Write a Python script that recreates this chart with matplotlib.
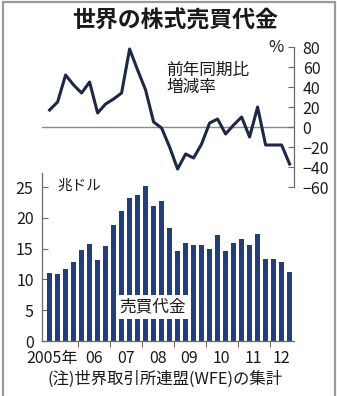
import numpy as np
import matplotlib
matplotlib.use("Agg")
import matplotlib.pyplot as plt
from matplotlib.patches import Rectangle

plt.rcParams['font.family'] = ['Noto Sans CJK JP', 'DejaVu Sans']

# quarterly, 2005 Q1 .. 2012 Q3
turnover = [11.0, 10.9, 11.7, 12.8, 14.8, 15.8, 13.2, 15.4,
            18.8, 21.1, 23.3, 23.7, 25.2, 22.0, 22.7, 18.3,
            14.6, 16.0, 15.6, 15.6, 15.0, 17.3, 14.6, 15.9,
            16.5, 15.6, 17.4, 13.3, 13.4, 12.8, 11.2]
yoy_change = [17, 25, 52, 42, 34, 45, 14, 23,
              28, 34, 78, 57, 37, 5, -1, -20,
              -42, -27, -31, -17, 4, 8, -7, 2,
              10, -10, 20, -18, -18, -18, -37]
year_labels = ['2005年', '06', '07', '08', '09', '10', '11', '12']
bar_ticks = [0, 5, 10, 15, 20, 25]
pct_ticks = [80, 60, 40, 20, 0, -20, -40, -60]

W, H = 337, 396
fig = plt.figure(figsize=(W / 100, H / 100), dpi=100)

bar_col = '#213f7c'
line_col = '#1d2847'
txt_col = '#1a1a1a'
spine_col = '#6a6a6a'

x = np.arange(len(turnover))
xlim = (-0.95, 30.6)

def box(l, b, r, t):
    return [l / W, 1 - b / H, (r - l) / W, (b - t) / H]

# bar chart
ax = fig.add_axes(box(42, 341, 294.4, 173))
ax.bar(x, turnover, width=0.62, color=bar_col, zorder=2)
ax.set_xlim(*xlim)
ax.set_ylim(0, 27.3)
ax.set_yticks(bar_ticks)
ax.tick_params(axis='y', direction='in', length=4, pad=6, labelsize=11.5,
               colors=spine_col, labelcolor=txt_col)
for s in ['top', 'right']:
    ax.spines[s].set_visible(False)
for s in ['left', 'bottom']:
    ax.spines[s].set_color(spine_col)
    ax.spines[s].set_linewidth(0.9)
bounds = [3.5 + 4 * k for k in range(7)]
ax.set_xticks(bounds)
ax.set_xticklabels([])
ax.tick_params(axis='x', direction='out', length=4, colors=spine_col)
centers = [1.5 + 4 * k for k in range(7)] + [29]
for i, (c, lab) in enumerate(zip(centers, year_labels)):
    if i == 0:
        ax.text(3.55, -1.45, lab, ha='right', va='top', fontsize=11.5,
                color=txt_col)
    else:
        ax.text(c, -1.45, lab, ha='center', va='top', fontsize=11.5,
                color=txt_col)
ax.text(1.0, 25.2, '兆ドル', ha='left', va='center', fontsize=10.5, color=txt_col)
ax.text(12.9, 5.5, '売買代金', ha='center', va='center', fontsize=12,
        color=txt_col, zorder=5,
        bbox=dict(facecolor='white', edgecolor='none', pad=2.5))

# change line
ax2 = fig.add_axes(box(42, 187, 294.4, 47))
ax2.patch.set_alpha(0)
ax2.plot(x, yoy_change, color=line_col, lw=2.2, zorder=3)
ax2.axhline(0, color='#8a8a8a', lw=1.0, zorder=1)
ax2.set_xlim(*xlim)
ax2.set_ylim(-60, 80)
ax2.set_xticks([])
ax2.yaxis.tick_right()
ax2.set_yticks(pct_ticks)
ax2.tick_params(axis='y', direction='in', length=4, pad=6, labelsize=11.5,
                colors=spine_col, labelcolor=txt_col)
for s in ['top', 'left', 'bottom']:
    ax2.spines[s].set_visible(False)
ax2.spines['right'].set_color(spine_col)
ax2.spines['right'].set_linewidth(0.9)
ax2.text(29.3, 80, '%', ha='right', va='center', fontsize=12, color=txt_col)
ax2.text(14.6, 48, '前年同期比\n増減率', ha='left', va='center', fontsize=12,
         color=txt_col, linespacing=1.05)

fig.text(175 / W, 1 - 21 / H, '世界の株式売買代金', ha='center', va='center',
         fontsize=16.5, fontweight='bold', color=txt_col)
fig.text(165 / W, 1 - 379 / H, '(注)世界取引所連盟(WFE)の集計', ha='center',
         va='center', fontsize=11.8, color=txt_col)

fig.patches.append(Rectangle((3 / W, -0.01), 332 / W, 1 - 2 / H + 0.01,
                             transform=fig.transFigure, fill=False,
                             edgecolor='#9a9a9a', lw=1.6))

fig.savefig('out.png', dpi=100)
